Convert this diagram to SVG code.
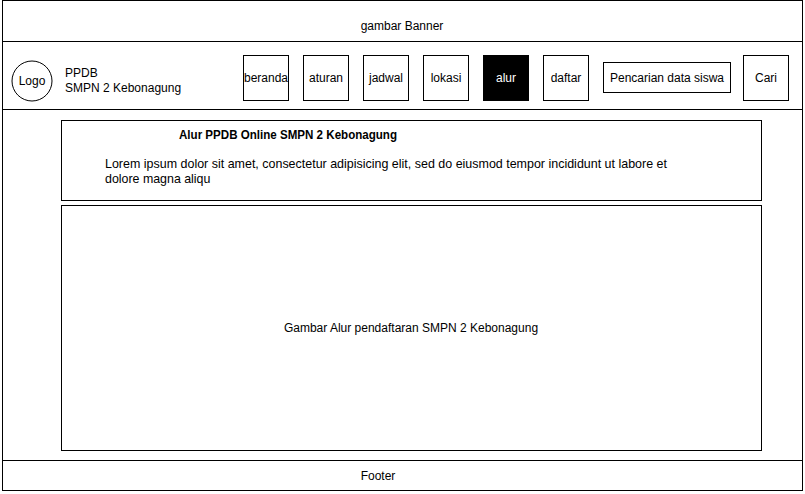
<svg xmlns="http://www.w3.org/2000/svg" width="805" height="494" viewBox="0 0 805 494">
<style>
text{font-family:"Liberation Sans",Arial,sans-serif;font-size:12px;fill:#000}
.c{text-anchor:middle}
.b{fill:#fff;stroke:#000;stroke-width:1}
.ln{stroke:#000;stroke-width:1;fill:none}
.lorem{font-size:12.4px}
</style>
<rect width="805" height="494" fill="#fff"/>
<g id="frame">
<rect x="2.5" y="0.5" width="800" height="490" fill="#fff" stroke="#000"/>
<line class="ln" x1="2.5" y1="41.5" x2="802.5" y2="41.5"/>
<line class="ln" x1="2.5" y1="109.5" x2="802.5" y2="109.5"/>
<line class="ln" x1="2.5" y1="460.5" x2="802.5" y2="460.5"/>
</g>
<g id="banner"><text class="c" x="402" y="30">gambar Banner</text></g>
<g id="logo">
<circle cx="32" cy="81" r="20" class="b"/>
<text class="c" x="32" y="85">Logo</text>
</g>
<g id="brand">
<text x="65" y="77">PPDB</text>
<text x="65" y="92">SMPN 2 Kebonagung</text>
</g>
<g id="nav-beranda"><rect class="b" x="243.5" y="55.5" width="45" height="45"/><text class="c" x="266" y="82">beranda</text></g>
<g id="nav-aturan"><rect class="b" x="303.5" y="55.5" width="45" height="45"/><text class="c" x="326" y="82">aturan</text></g>
<g id="nav-jadwal"><rect class="b" x="363.5" y="55.5" width="45" height="45"/><text class="c" x="386" y="82">jadwal</text></g>
<g id="nav-lokasi"><rect class="b" x="423.5" y="55.5" width="45" height="45"/><text class="c" x="446" y="82">lokasi</text></g>
<g id="nav-alur"><rect x="483.5" y="55.5" width="45" height="45" fill="#000" stroke="#000"/><text class="c" x="506" y="82" style="fill:#fff">alur</text></g>
<g id="nav-daftar"><rect class="b" x="543.5" y="55.5" width="45" height="45"/><text class="c" x="566" y="82">daftar</text></g>
<g id="search"><rect class="b" x="603.5" y="62.5" width="127" height="30"/><text class="c" x="667" y="82">Pencarian data siswa</text></g>
<g id="cari"><rect class="b" x="743.5" y="55.5" width="45" height="45"/><text class="c" x="766" y="82">Cari</text></g>
<g id="intro">
<rect class="b" x="61.5" y="120.5" width="700" height="80"/>
<text x="179" y="139" style="font-weight:bold" textLength="218" lengthAdjust="spacingAndGlyphs">Alur PPDB Online SMPN 2 Kebonagung</text>
<text class="lorem" x="105" y="168" textLength="562" lengthAdjust="spacingAndGlyphs">Lorem ipsum dolor sit amet, consectetur adipisicing elit, sed do eiusmod tempor incididunt ut labore et</text>
<text class="lorem" x="105" y="183">dolore magna aliqu</text>
</g>
<g id="gambar-alur">
<rect class="b" x="61.5" y="205.5" width="700" height="245"/>
<text class="c" x="411" y="332">Gambar Alur pendaftaran SMPN 2 Kebonagung</text>
</g>
<g id="footer"><text class="c" x="378" y="480">Footer</text></g>
<g id="connectors"></g>
</svg>
